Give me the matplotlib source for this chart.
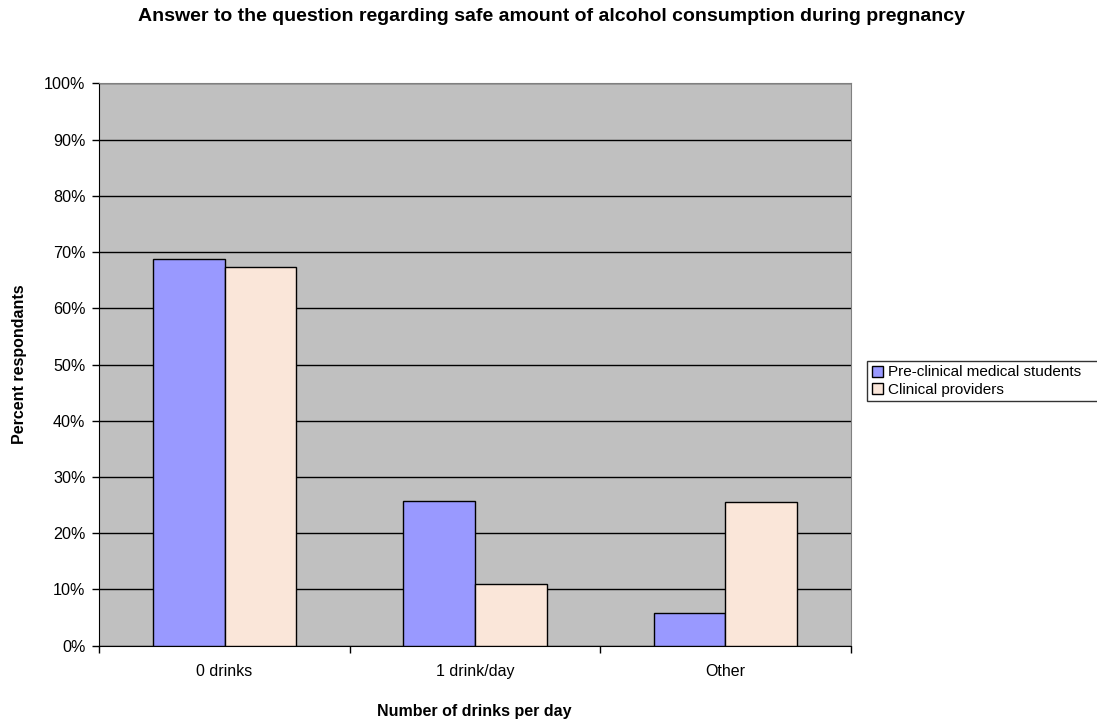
import numpy as np
import matplotlib.pyplot as plt
from matplotlib.ticker import FixedLocator, PercentFormatter

plt.rcParams['font.family'] = ['Liberation Sans', 'DejaVu Sans']

# survey answers, percent of respondents
categories = ['0 drinks', '1 drink/day', 'Other']
students = [68.7, 25.8, 5.8]
providers = [67.3, 11.0, 25.6]
series_names = ['Pre-clinical medical students', 'Clinical providers']

fig = plt.figure(figsize=(10.97, 7.23), dpi=100)
ax = fig.add_axes([0.0905, 0.1069, 0.6850, 0.7779])
ax.set_facecolor('#C0C0C0')

x = np.arange(len(categories))
w = 1 / 3.5  # excel-style 150% gap width
ax.bar(x - w / 2, students, w, color='#9999FF', edgecolor='black', linewidth=1,
       label=series_names[0], zorder=3)
ax.bar(x + w / 2, providers, w, color='#FAE6D9', edgecolor='black', linewidth=1,
       label=series_names[1], zorder=3)

ax.set_xlim(-0.5, len(categories) - 0.5)
ax.set_ylim(0, 100)
ax.set_yticks(np.arange(0, 101, 10))
ax.yaxis.set_major_formatter(PercentFormatter(decimals=0))
ax.grid(axis='y', color='black', linewidth=1, zorder=1)

# category labels centred, tick marks between the groups
ax.set_xticks(x)
ax.set_xticklabels(categories)
ax.tick_params(axis='x', length=0, pad=13, labelsize=11.5)
ax.xaxis.set_minor_locator(FixedLocator(np.arange(-0.5, len(categories), 1)))
ax.tick_params(axis='x', which='minor', length=5, width=1, color='black')
ax.tick_params(axis='y', length=5, width=1, labelsize=11.6, pad=5)

for side in ['top', 'right']:
    ax.spines[side].set_color('#808080')
ax.spines['left'].set_color('black')
ax.spines['bottom'].set_color('black')

ax.set_xlabel('Number of drinks per day', fontsize=11.5, fontweight='bold')
ax.xaxis.set_label_coords(0.4995, -0.104)
ax.set_ylabel('Percent respondants', fontsize=11.5, fontweight='bold', va='center')
ax.yaxis.set_label_coords(-0.106, 0.5)
fig.text(0.5027, 0.977,
         'Answer to the question regarding safe amount of alcohol consumption during pregnancy',
         ha='center', va='center', fontsize=14, fontweight='bold')

leg = ax.legend(loc='center left', bbox_to_anchor=(1.0217, 0.3907, 0.32, 0.16), mode='expand',
                frameon=True, fancybox=False, edgecolor='black', fontsize=11,
                handlelength=0.75, handleheight=0.75, handletextpad=0.3,
                borderpad=0.3, labelspacing=0.2, borderaxespad=0)
leg.get_frame().set_linewidth(1)

fig.savefig('out.png', dpi=100)
